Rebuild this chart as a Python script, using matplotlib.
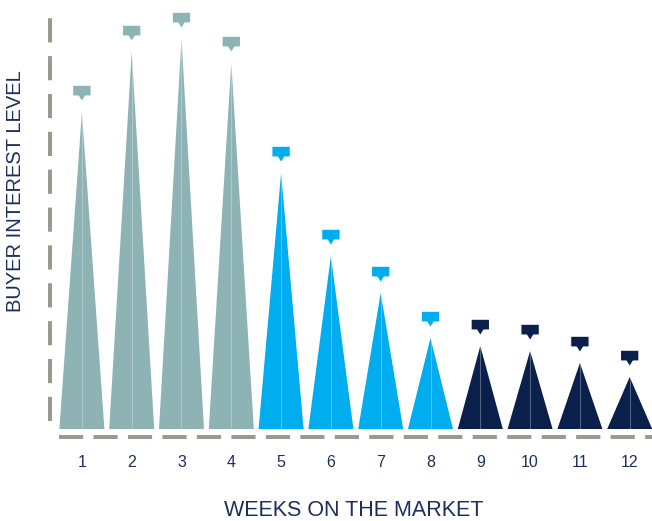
"""Buyer interest by week on the market: triangle bars with callout markers."""

import matplotlib

matplotlib.use("Agg")
import matplotlib.pyplot as plt
from matplotlib.patches import Polygon

weeks = list(range(1, 13))
interest = [79.25, 94.25, 97.5, 91.5, 64.0, 43.25, 34.0, 22.75, 20.75, 19.5, 16.5, 13.0]
phase = ["early"] * 4 + ["mid"] * 4 + ["late"] * 4
tick_labels = [str(w) for w in weeks]
x_title = "WEEKS ON THE MARKET"
y_title = "BUYER INTEREST LEVEL"

colors = {"early": "#8db3b4", "mid": "#00adef", "late": "#0b1f4b"}
axis_gray = "#9b9a8f"
text_navy = "#1c2e5c"

W, H = 652, 521
fig = plt.figure(figsize=(W / 100, H / 100), dpi=100)
ax = fig.add_axes([57 / W, (H - 429) / H, (W - 57) / W, 429 / H])
ax.set_xlim(0.5, 0.5 + (W - 57) / 49.8)
ax.set_ylim(0, 429 / 4)

half = 0.452
for x, h, p in zip(weeks, interest, phase, strict=True):
    c = colors[p]
    ax.add_patch(Polygon([(x - half, 0), (x, h), (x + half, 0)], closed=True,
                         facecolor=c, edgecolor="none"))
    ax.plot([x, x], [0, h], color="white", alpha=0.3, lw=0.8)
    # callout marker above the peak
    bot = h + 4.0
    top = bot + 2.7
    bw = 0.185
    pts = [(x - bw, top), (x + bw, top), (x + bw, bot), (x + 0.07, bot),
           (x, bot - 1.4), (x - 0.07, bot), (x - bw, bot)]
    ax.add_patch(Polygon(pts, closed=True, facecolor=c, edgecolor="white", lw=0.8))

for side in ("top", "right"):
    ax.spines[side].set_visible(False)
for side, off, dashes in (("left", 5.0, (5, 4.4)), ("bottom", 5.76, (5, 3.56))):
    sp = ax.spines[side]
    sp.set_position(("outward", off))
    sp.set_color(axis_gray)
    sp.set_linewidth(2.9)
    sp.set_linestyle((0, dashes))
ax.spines["left"].set_bounds(2.5, 104.75)
ax.spines["bottom"].set_bounds(0.58, ax.get_xlim()[1])

ax.set_xticks(weeks)
ax.set_xticklabels(tick_labels)
ax.set_yticks([])
ax.tick_params(axis="x", length=0, pad=13, labelsize=11.5, labelcolor=text_navy)
for lab in ax.get_xticklabels():
    lab.set_fontfamily(["Liberation Sans", "DejaVu Sans"])

fig.text(353.5 / W, (H - 511) / H, x_title, ha="center", va="center",
         fontsize=15.5, color=text_navy, family=["Liberation Sans", "DejaVu Sans"])
fig.text(16 / W, (H - 191.5) / H, y_title, ha="center", va="center", rotation=90,
         fontsize=14.5, color=text_navy, family=["Liberation Sans", "DejaVu Sans"])

fig.savefig("out.png", dpi=100)
